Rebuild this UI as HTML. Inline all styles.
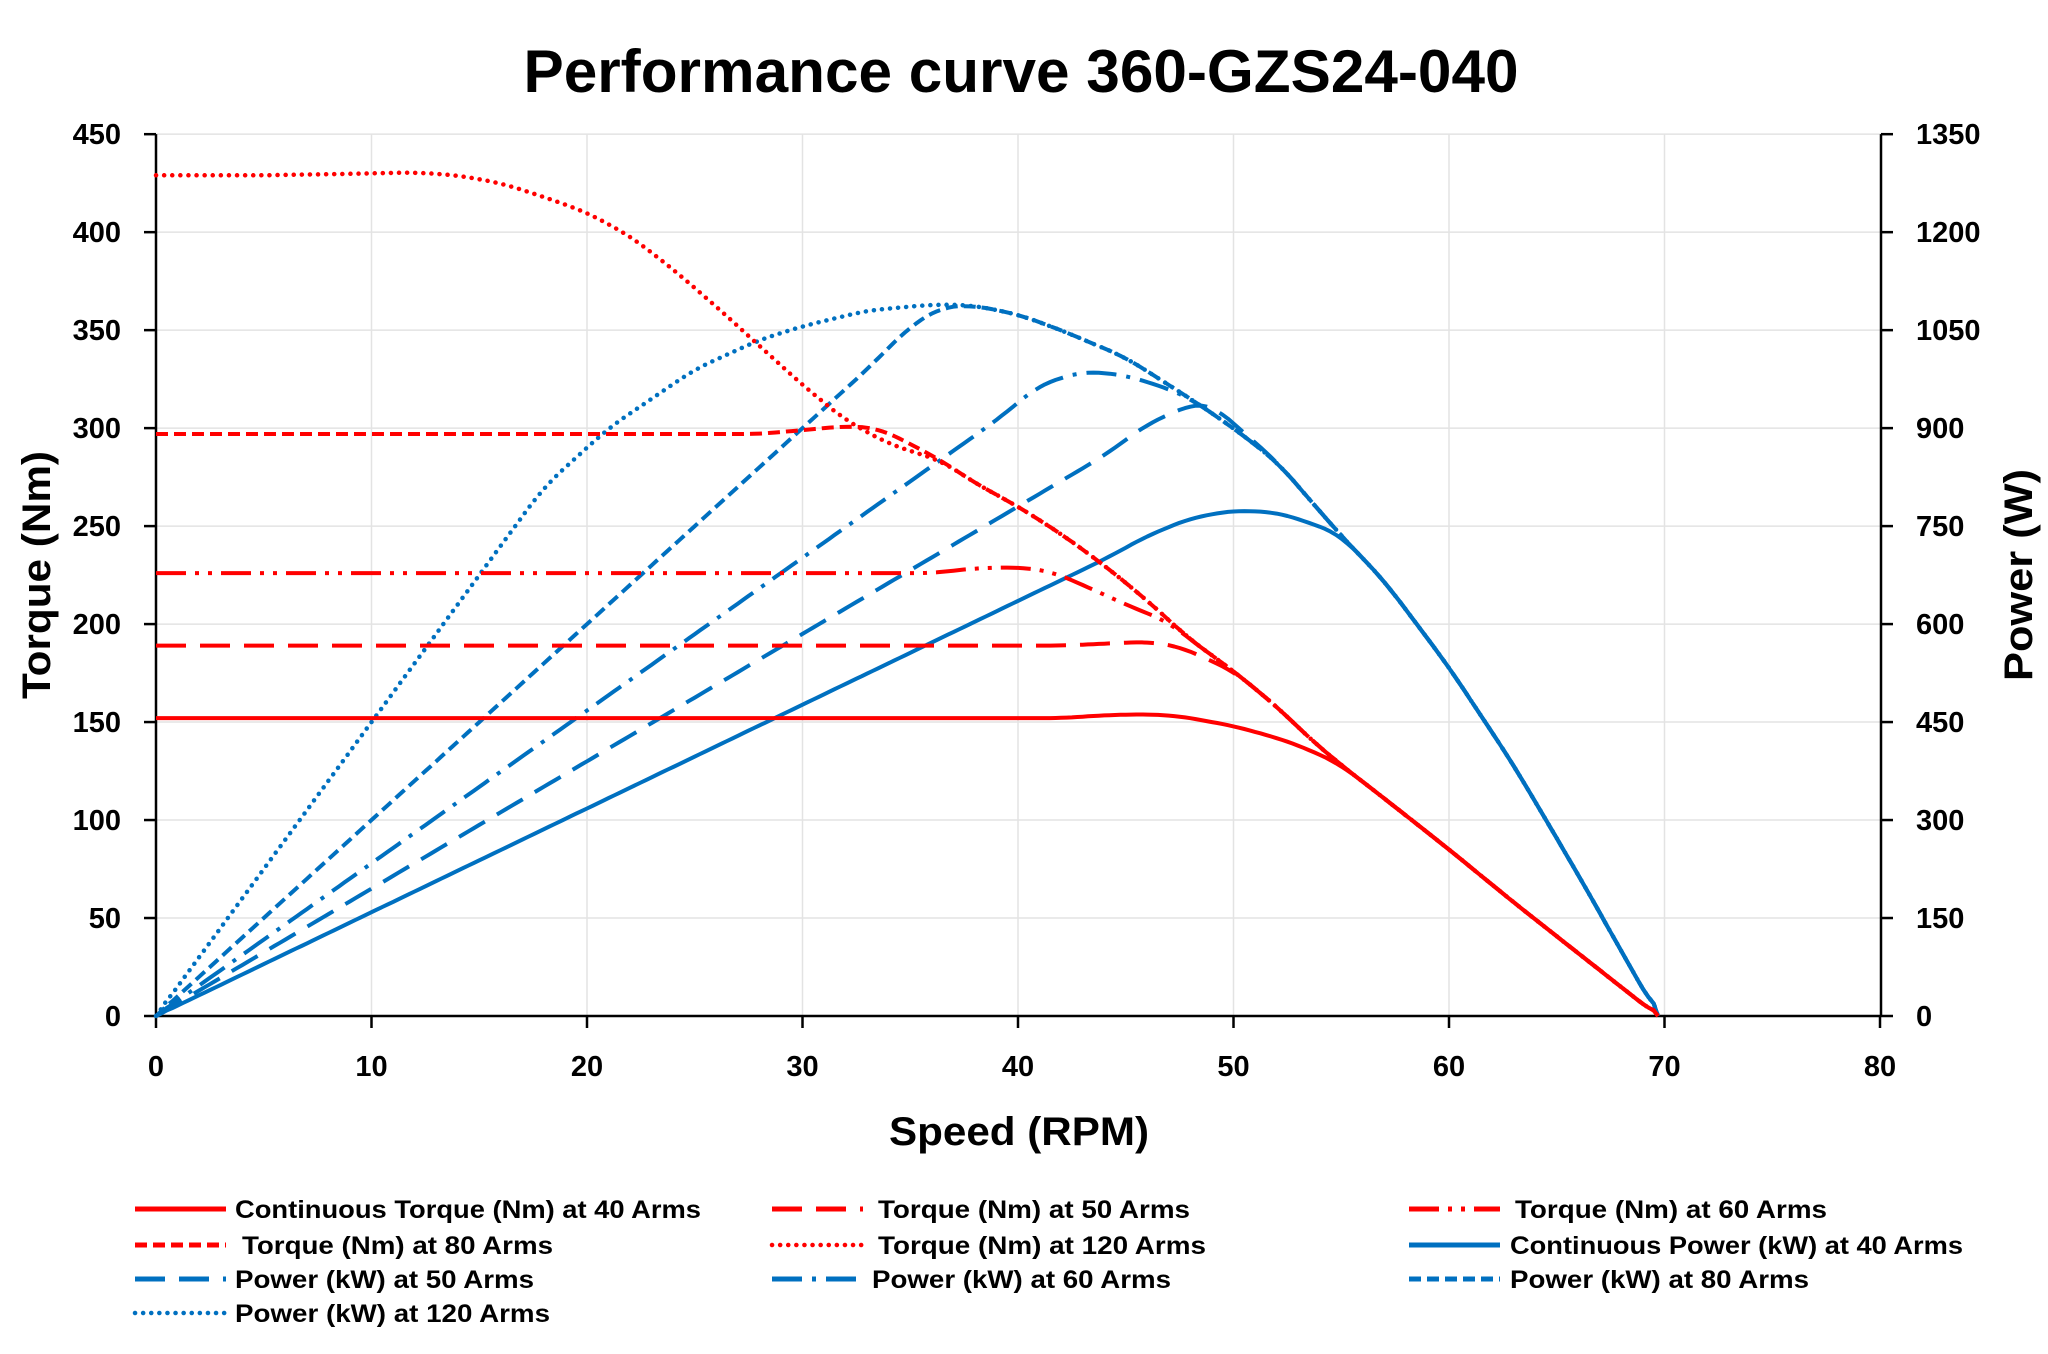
<!DOCTYPE html>
<html><head><meta charset="utf-8"><style>
html,body{margin:0;padding:0;background:#fff;}
svg{display:block;font-family:"Liberation Sans",Arial,sans-serif;font-weight:bold;}
</style></head><body>
<svg id="s" width="2048" height="1354" viewBox="0 0 2048 1354" xmlns="http://www.w3.org/2000/svg">
<rect width="2048" height="1354" fill="#fff"/>
<text x="1021" y="92" font-size="60" text-anchor="middle" textLength="995" lengthAdjust="spacingAndGlyphs">Performance curve 360-GZS24-040</text>
<g id="grid" stroke="#e3e3e3" stroke-width="1.5"></g>
<g id="axes" stroke="#000" stroke-width="2.5" fill="none"></g>
<g id="lbl" font-size="29"></g>
<text x="1019" y="1145" font-size="40" text-anchor="middle" textLength="260" lengthAdjust="spacingAndGlyphs">Speed (RPM)</text>
<text transform="translate(50,575) rotate(-90)" font-size="40" text-anchor="middle" textLength="248" lengthAdjust="spacingAndGlyphs">Torque (Nm)</text>
<text transform="translate(2032,575) rotate(-90)" font-size="40" text-anchor="middle" textLength="212" lengthAdjust="spacingAndGlyphs">Power (W)</text>
<g id="curves" fill="none" stroke-width="4" stroke-linejoin="round"></g>
<g id="leg" font-size="25"></g>
</svg>
<script>
const NS="http://www.w3.org/2000/svg";
const X=v=>156+v*21.55, Y=t=>1016-t*1.9596;
function el(p,tag,a,txt){const e=document.createElementNS(NS,tag);for(const k in a)e.setAttribute(k,a[k]);if(txt!=null)e.textContent=txt;document.getElementById(p).appendChild(e);return e;}
for(let t=50;t<=450;t+=50)el('grid','line',{x1:156,x2:1881,y1:Y(t),y2:Y(t)});
for(let v=10;v<=70;v+=10)el('grid','line',{x1:X(v),x2:X(v),y1:Y(450),y2:1016});
el('axes','line',{x1:156,x2:156,y1:Y(450),y2:1016});
el('axes','line',{x1:1881,x2:1881,y1:Y(450),y2:1016});
el('axes','line',{x1:156,x2:1881,y1:1016,y2:1016});
for(let t=0;t<=450;t+=50){
 el('axes','line',{x1:144,x2:156,y1:Y(t),y2:Y(t)});
 el('axes','line',{x1:1881,x2:1893,y1:Y(t),y2:Y(t)});
 el('lbl','text',{x:121,y:Y(t)+10,'text-anchor':'end'},String(t));
 el('lbl','text',{x:1916,y:Y(t)+10},String(t*3));
}
for(let v=0;v<=80;v+=10){
 el('axes','line',{x1:X(v),x2:X(v),y1:1016,y2:1028});
 el('lbl','text',{x:X(v),y:1076,'text-anchor':'middle'},String(v));
}
const tail=[[55,128],[57,111],[60,85],[63,58],[66,32],[69.7,0]];
const T80tail=[[36.5,283],[38,272],[40,260],[42,246],[44,230],[46,212],[48,192],[50,176],[52,158],[53.5,142]].concat(tail);
const T40=[[0,152],[42,152],[44,153.5],[46,154],[47.5,153],[50,148],[52,142],[53.5,136]].concat(tail);
const T50=[[0,189],[42,189],[44,190],[46,191],[47.5,188.5]].concat(T80tail.filter(p=>p[0]>=49));
const T60=[[0,226],[36,226],[38,228.5],[40,229],[41.5,227],[43,220],[45,210],[47,201]].concat(T80tail.filter(p=>p[0]>=48));
const T80=[[0,297],[28,297],[30,299],[32,301],[33.5,300],[35,292]].concat(T80tail);
const T120=[[0,429],[5,429],[10,430],[12,430.5],[14,429],[16,425],[18,418],[20,410],[22,398],[24,381],[26,362],[28,342],[30,322],[32,304],[34,292]].concat(T80tail);
// power (axis units = W/3)
const Ptail=[[55,245],[57,222],[60,178],[63,128],[66,72],[69.7,0]];
const Phigh=[[38,362.5],[40,358],[42,350],[45,336],[48,315],[50,300],[52,283]].concat(Ptail);
const P120=[[0,0],[18,270],[21,300],[25,330],[28,345],[30,352],[33,360],[36,363],[37,363]].concat(Phigh);
const P80=[[0,0],[33,330],[35,352],[36.5,362]].concat(Phigh);
const P60=[[0,0],[39,304],[41,322],[43,329],[45,327],[47,320]].concat(Phigh.filter(p=>p[0]>=48));
const P50=[[0,0],[44,286],[46,302],[48,312],[49,312]].concat(Phigh.filter(p=>p[0]>=50.5));
const P40=[[0,0],[44,233],[46,245],[48,254],[50,258],[52,257],[54,250]].concat(Ptail);
function interp(a,v){for(let i=1;i<a.length;i++){if(v<=a[i][0]){const[x0,y0]=a[i-1],[x1,y1]=a[i];return y0+(y1-y0)*(v-x0)/(x1-x0);}}return a[a.length-1][1];}
function smooth(a){const pts=[];for(let v=0;v<=69.7;v+=0.25){let s=0,n=0;for(let d=-0.75;d<=0.75;d+=0.25){const w=Math.min(Math.max(v+d,0),69.7);s+=interp(a,w);n++;}pts.push([v,v<0.5?interp(a,v):s/n]);}pts.push([69.7,0]);return pts;}
function path(pts){return 'M'+pts.map(p=>X(p[0]).toFixed(1)+','+Y(p[1]).toFixed(1)).join('L');}
const R='#ff0000',B='#0070c0';
const styles={s40:'',s50:'30 14',s60:'30 9 4 9 4 9',s80:'12 6',s120:'0.1 8',p60:'30 10 4 10'};
[[P40,''],[P50,styles.s50],[P60,styles.p60],[P80,styles.s80],[P120,styles.s120]].forEach(([a,s])=>{
 el('curves','path',{d:path(smooth(a)),stroke:B,'stroke-dasharray':s,'stroke-linecap':s==styles.s120?'round':'butt','stroke-width':s==styles.s120?4.5:4});
});
[[T40,'s40'],[T50,'s50'],[T60,'s60'],[T80,'s80'],[T120,'s120']].forEach(([a,s])=>{
 el('curves','path',{d:path(smooth(a)),stroke:R,'stroke-dasharray':styles[s],'stroke-linecap':s=='s120'?'round':'butt','stroke-width':s=='s120'?4.5:4});
});
const leg=[
 [135,1209,R,'s40',235,'Continuous Torque (Nm) at 40 Arms',466],
 [772,1209,R,'s50',878,'Torque (Nm) at 50 Arms',312],
 [1409,1209,R,'s60',1515,'Torque (Nm) at 60 Arms',312],
 [135,1245,R,'s80',242,'Torque (Nm) at 80 Arms',311],
 [772,1245,R,'s120',878,'Torque (Nm) at 120 Arms',328],
 [1409,1245,B,'s40',1510,'Continuous Power (kW) at 40 Arms',453],
 [135,1279,B,'s50',235,'Power (kW) at 50 Arms',299],
 [772,1279,B,'p60',872,'Power (kW) at 60 Arms',299],
 [1409,1279,B,'s80',1510,'Power (kW) at 80 Arms',299],
 [135,1313,B,'s120',235,'Power (kW) at 120 Arms',315]];
leg.forEach(([lx,ly,c,s,tx,t,w])=>{
 el('leg','line',{x1:lx,x2:lx+91,y1:ly,y2:ly,stroke:c,'stroke-width':s=='s120'?4.5:5,'stroke-dasharray':styles[s],'stroke-linecap':s=='s120'?'round':'butt'});
 el('leg','text',{x:tx,y:ly+9,textLength:w,lengthAdjust:'spacingAndGlyphs'},t);
});
</script>
</body></html>
